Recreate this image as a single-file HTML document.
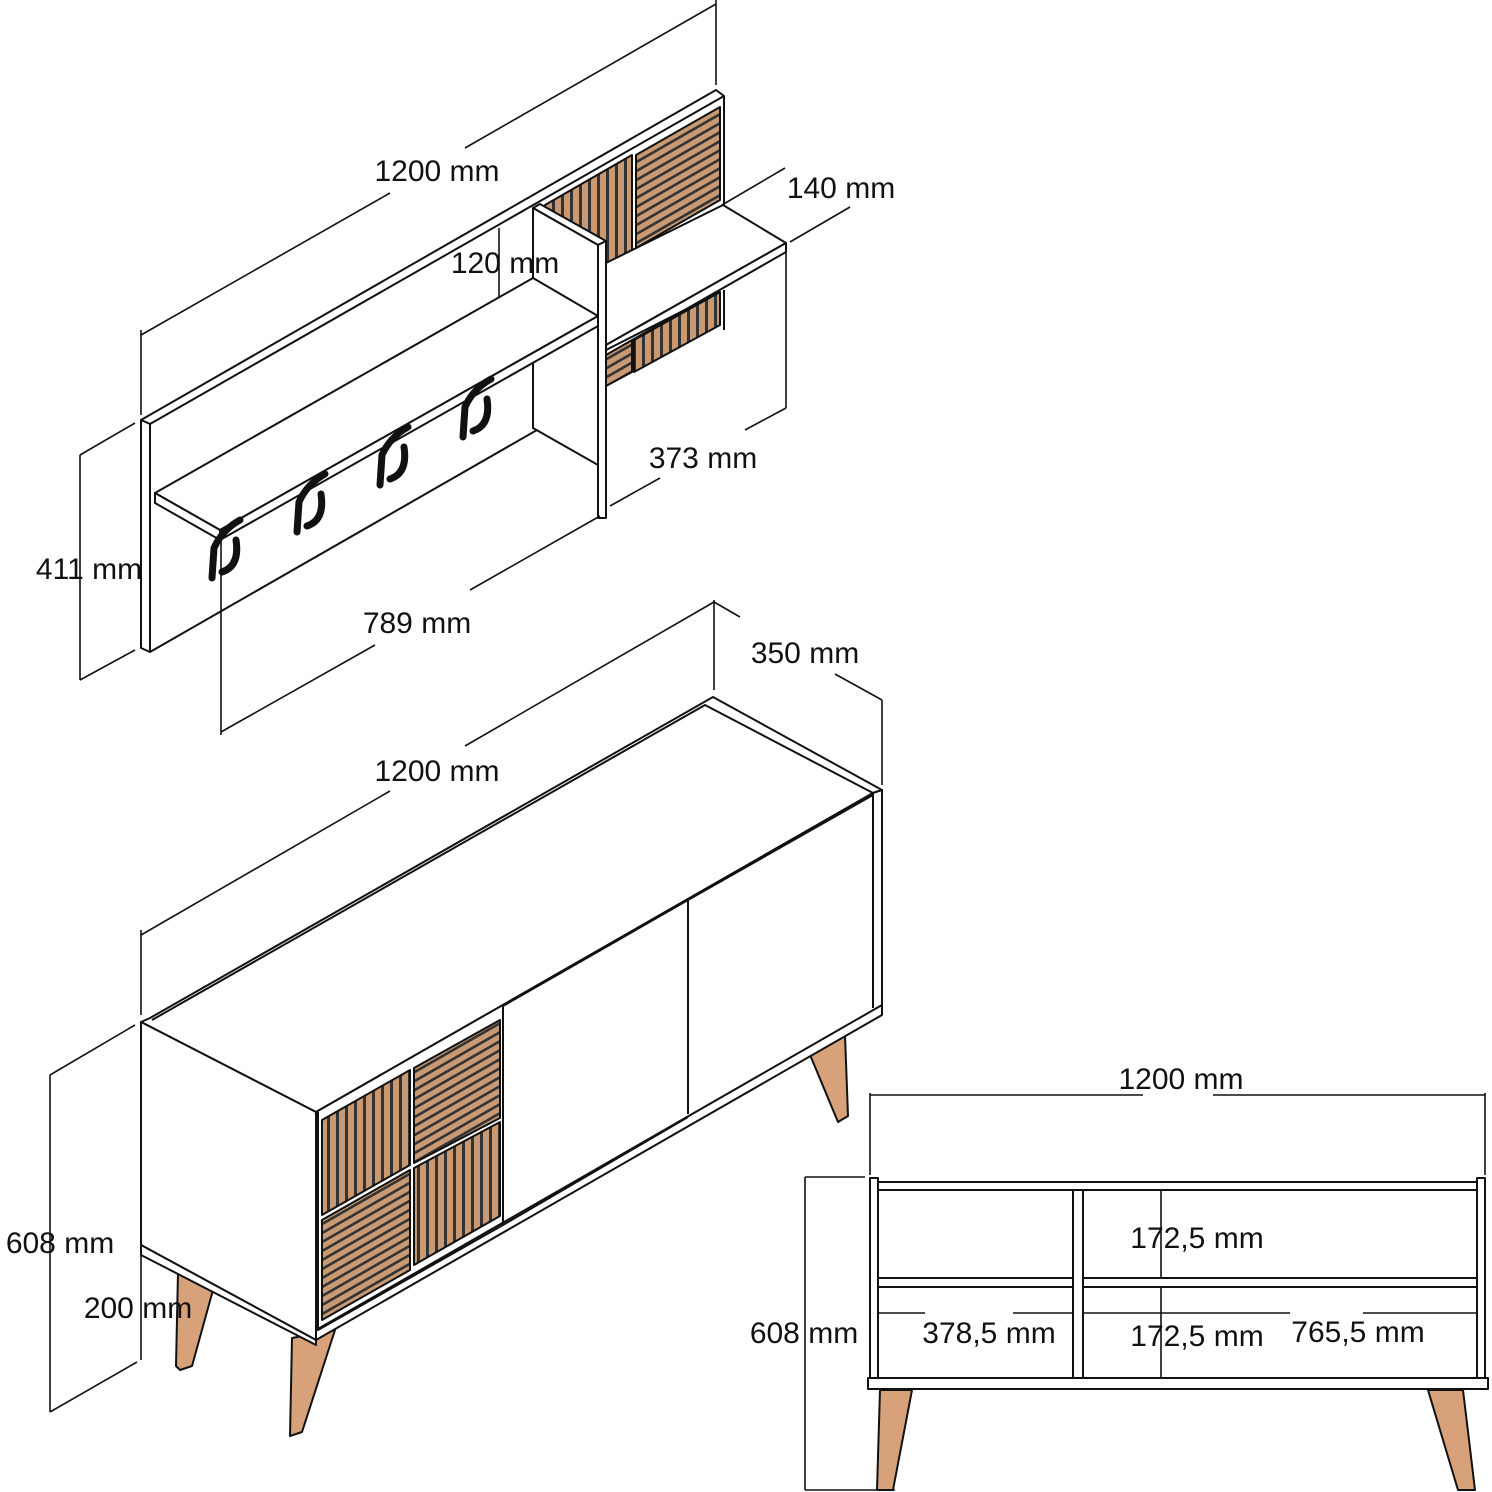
<!DOCTYPE html>
<html><head><meta charset="utf-8"><style>
html,body{margin:0;padding:0;background:#fff}
svg{display:block}
text{font-family:"Liberation Sans",sans-serif;font-size:30px;fill:#111;text-anchor:middle}
</style></head><body>
<svg width="1492" height="1492" viewBox="0 0 1492 1492" xmlns="http://www.w3.org/2000/svg">
<defs>
<pattern id="vs" width="9" height="9" patternUnits="userSpaceOnUse" patternTransform="skewY(-29.8)">
<rect width="9" height="9" fill="#c99a72"/><rect x="3" width="3" height="9" fill="#333"/></pattern>
<pattern id="hs" width="9" height="9" patternUnits="userSpaceOnUse" patternTransform="skewY(-29.8)">
<rect width="9" height="9" fill="#c99a72"/><rect y="3" width="9" height="3" fill="#333"/></pattern>
</defs>
<g fill="none" stroke="#111" stroke-width="2" stroke-linejoin="round">
<!-- ===== TOP SHELF ===== -->
<!-- patterns -->
<polygon points="636,155 720,107 720,200 636,248" fill="url(#hs)"/>
<polygon points="545,205 632,155 632,250 605,265 545,240" fill="url(#vs)"/>
<polygon points="634,340 720,292 720,325 634,372" fill="url(#vs)"/>
<polygon points="606,350 632,336 632,372 606,386" fill="url(#hs)"/>
<!-- back panel -->
<polygon points="141,420 716,90 724,96 150,424" fill="#fff"/>
<polyline points="724,96 724,205"/>
<polyline points="724,290 724,330"/>
<polygon points="141,420 150,424 150,652 141,648" fill="#fff"/>
<line x1="150" y1="652" x2="598" y2="395"/>
<!-- divider -->
<polygon points="533,208 540,204 606,241 598,245" fill="#fff"/>
<polygon points="533,208 598,245 598,465 533,428" fill="#fff"/>
<polygon points="598,245 606,241 606,518 598,518" fill="#fff"/>
<!-- right shelf -->
<polygon points="606,263 723,205 786,243 606,345" fill="#fff"/>
<polygon points="606,345 786,243 786,252 606,355" fill="#fff"/>
<line x1="606" y1="350" x2="720" y2="292"/>
<!-- left shelf -->
<polygon points="155,493 533,278 598,316 220,530" fill="#fff"/>
<polygon points="155,493 220,530 220,540 155,503" fill="#fff"/>
<polygon points="220,530 598,316 598,326 220,540" fill="#fff"/>
</g>
<!-- hooks -->
<g stroke="#111" stroke-width="7" fill="none" stroke-linecap="round">
<path d="M212,578 L214,548 Q222,530 240,520 M222,572 Q240,566 236,540"/>
<path d="M297,532 L299,502 Q307,484 325,474 M307,526 Q325,520 321,494"/>
<path d="M380,485 L382,455 Q390,437 408,427 M390,479 Q408,473 404,447"/>
<path d="M463,437 L465,407 Q473,389 491,379 M473,431 Q491,425 487,399"/>
</g>
<g fill="none" stroke="#111" stroke-width="1.6">
<!-- dims top -->
<line x1="141" y1="330" x2="141" y2="415"/><line x1="716" y1="0" x2="716" y2="85"/>
<line x1="141" y1="335" x2="390" y2="193"/><line x1="465" y1="148" x2="716" y2="4"/>
<line x1="80" y1="455" x2="80" y2="680"/><line x1="80" y1="455" x2="135" y2="423"/><line x1="80" y1="680" x2="135" y2="650"/>
<line x1="499" y1="228" x2="499" y2="298"/>
<line x1="722" y1="205" x2="785" y2="168"/><line x1="790" y1="242" x2="850" y2="207"/>
<line x1="786" y1="252" x2="786" y2="408"/>
<line x1="610" y1="506" x2="660" y2="478"/><line x1="745" y1="430" x2="786" y2="408"/>
<line x1="221" y1="540" x2="221" y2="735"/><line x1="221" y1="732" x2="375" y2="645"/><line x1="470" y1="590" x2="600" y2="516"/>
<!-- dims cabinet -->
<line x1="714" y1="600" x2="714" y2="690"/><line x1="714" y1="602" x2="740" y2="617"/>
<line x1="835" y1="674" x2="882" y2="700"/><line x1="882" y1="700" x2="882" y2="785"/>
<line x1="141" y1="930" x2="141" y2="1015"/><line x1="141" y1="935" x2="390" y2="791"/><line x1="465" y1="746" x2="714" y2="602"/>
<line x1="50" y1="1075" x2="50" y2="1412"/><line x1="50" y1="1075" x2="135" y2="1025"/><line x1="50" y1="1412" x2="137" y2="1362"/>
<line x1="141" y1="1255" x2="141" y2="1360"/>
</g>
<g fill="none" stroke="#111" stroke-width="2" stroke-linejoin="round">
<!-- ===== CABINET ===== -->
<polygon points="178,1272 213,1290 192,1366 180,1370 176,1366" fill="#d7a27a"/>
<polygon points="292,1338 335,1330 302,1432 290,1436" fill="#d7a27a"/>
<polygon points="808,1050 845,1035 848,1116 838,1122" fill="#d7a27a"/>
<polygon points="141,1022 150,1018 713,697 882,790 873,793 316,1112" fill="#fff"/>
<polyline points="152,1020 705,705 873,793"/>
<polygon points="141,1022 316,1112 316,1340 141,1245" fill="#fff"/>
<polygon points="141,1245 316,1340 316,1345 141,1255" fill="#fff"/>
<polygon points="316,1112 873,793 882,790 882,1015 316,1340" fill="#fff"/>
<line x1="873" y1="793" x2="873" y2="1008"/>
<line x1="316" y1="1330" x2="882" y2="1005"/>
<polyline points="318,1112 318,1330 503,1225 503,1006"/>
<polyline points="503,1006 688,900 688,1114"/>
<line x1="503" y1="1225" x2="688" y2="1117"/>
<polyline points="688,900 873,795"/>
<!-- cabinet patterns -->
<polygon points="322,1120 410,1070 410,1165 322,1215" fill="url(#vs)"/>
<polygon points="414,1068 500,1020 500,1118 414,1163" fill="url(#hs)"/>
<polygon points="322,1220 410,1170 410,1270 322,1320" fill="url(#hs)"/>
<polygon points="414,1168 500,1122 500,1216 414,1265" fill="url(#vs)"/>
<!-- ===== FRONT VIEW ===== -->
<line x1="870" y1="1095" x2="1143" y2="1095" stroke-width="1.6"/><line x1="1213" y1="1095" x2="1485" y2="1095" stroke-width="1.6"/>
<line x1="870" y1="1093" x2="870" y2="1175" stroke-width="1.6"/><line x1="1485" y1="1093" x2="1485" y2="1175" stroke-width="1.6"/>
<line x1="805" y1="1177" x2="805" y2="1490" stroke-width="1.6"/><line x1="805" y1="1177" x2="865" y2="1177" stroke-width="1.6"/><line x1="805" y1="1490" x2="895" y2="1490" stroke-width="1.6"/>
<polygon points="880,1390 912,1390 893,1490 877,1490" fill="#d7a27a"/>
<polygon points="1428,1390 1463,1390 1475,1490 1458,1490" fill="#d7a27a"/>
<rect x="870" y="1178" width="8" height="202" fill="#fff"/>
<rect x="1477" y="1178" width="8" height="202" fill="#fff"/>
<rect x="878" y="1182" width="599" height="8" fill="#fff"/>
<rect x="1073" y="1190" width="10" height="188" fill="#fff"/>
<rect x="878" y="1278" width="195" height="9" fill="#fff"/>
<rect x="1083" y="1278" width="394" height="9" fill="#fff"/>
<rect x="868" y="1378" width="620" height="11" fill="#fff"/>
<g stroke-width="1.6">
<line x1="1161" y1="1190" x2="1161" y2="1278"/><line x1="1161" y1="1287" x2="1161" y2="1378"/>
<line x1="878" y1="1313" x2="925" y2="1313"/><line x1="1013" y1="1313" x2="1073" y2="1313"/>
<line x1="1083" y1="1313" x2="1290" y2="1313"/><line x1="1363" y1="1313" x2="1477" y2="1313"/>
</g>
</g>
<g>
<text x="437" y="181">1200 mm</text>
<text x="841" y="198">140 mm</text>
<text x="505" y="273">120 mm</text>
<text x="703" y="468">373 mm</text>
<text x="89" y="579">411 mm</text>
<text x="417" y="633">789 mm</text>
<text x="805" y="663">350 mm</text>
<text x="437" y="781">1200 mm</text>
<text x="60" y="1253">608 mm</text>
<text x="138" y="1318">200 mm</text>
<text x="1181" y="1089">1200 mm</text>
<text x="1197" y="1248">172,5 mm</text>
<text x="804" y="1343">608 mm</text>
<text x="989" y="1343">378,5 mm</text>
<text x="1197" y="1346">172,5 mm</text>
<text x="1358" y="1342">765,5 mm</text>
</g>
</svg>
</body></html>
